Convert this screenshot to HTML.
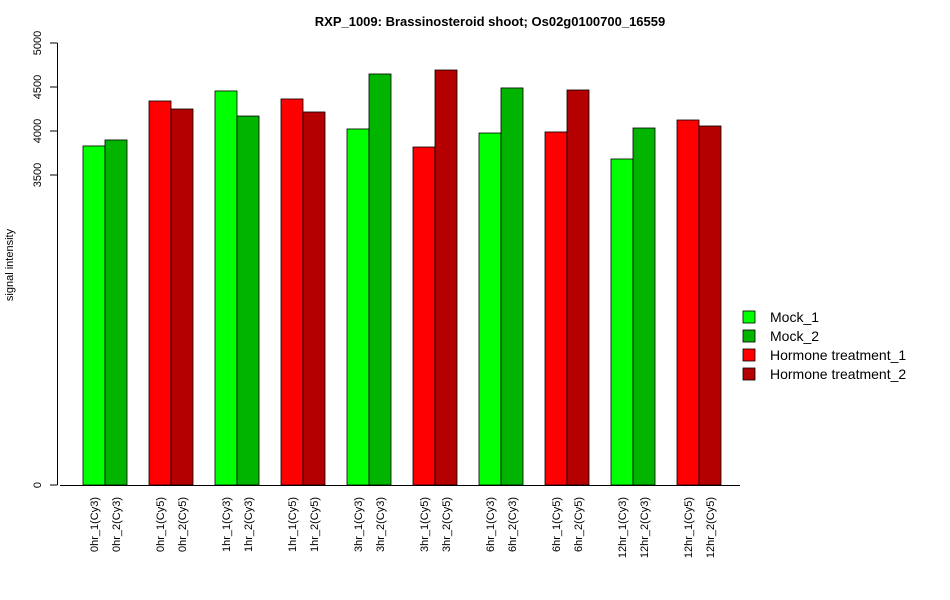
<!DOCTYPE html>
<html><head><meta charset="utf-8"><style>body{margin:0;background:#fff}svg{display:block;font-family:"Liberation Sans",Arial,sans-serif}</style></head>
<body>
<svg id="chart" width="950" height="600" xmlns="http://www.w3.org/2000/svg">
<text x="490" y="26" text-anchor="middle" font-size="13" font-weight="bold">RXP_1009: Brassinosteroid shoot; Os02g0100700_16559</text>
<text transform="translate(13,265) rotate(-90)" text-anchor="middle" font-size="11">signal intensity</text>
<g id="plot"></g>
<g>
<rect x="743" y="311" width="12" height="12" fill="#00ff00" stroke="#000" stroke-width="0.8"/>
<text x="770" y="322" font-size="14">Mock_1</text>
<rect x="743" y="330" width="12" height="12" fill="#00b400" stroke="#000" stroke-width="0.8"/>
<text x="770" y="341" font-size="14">Mock_2</text>
<rect x="743" y="349" width="12" height="12" fill="#ff0000" stroke="#000" stroke-width="0.8"/>
<text x="770" y="360" font-size="14">Hormone treatment_1</text>
<rect x="743" y="368" width="12" height="12" fill="#b40000" stroke="#000" stroke-width="0.8"/>
<text x="770" y="379" font-size="14">Hormone treatment_2</text>
</g>
</svg>
<script>
const categories = ["0hr_1(Cy3)","0hr_2(Cy3)","0hr_1(Cy5)","0hr_2(Cy5)","1hr_1(Cy3)","1hr_2(Cy3)","1hr_1(Cy5)","1hr_2(Cy5)","3hr_1(Cy3)","3hr_2(Cy3)","3hr_1(Cy5)","3hr_2(Cy5)","6hr_1(Cy3)","6hr_2(Cy3)","6hr_1(Cy5)","6hr_2(Cy5)","12hr_1(Cy3)","12hr_2(Cy3)","12hr_1(Cy5)","12hr_2(Cy5)"];
const values = [3830,3898,4341,4250,4455,4170,4364,4216,4023,4648,3818,4693,3977,4489,3989,4466,3682,4034,4125,4057];
const yTicks = [0,3500,4000,4500,5000];
const colors = ["#00ff00","#00b400","#ff0000","#b40000"];
const NS="http://www.w3.org/2000/svg";
const g=document.getElementById('plot');
function yScale(v){ return v>=3500 ? 175-(v-3500)*0.088 : 485-v/3500*310; }
function xScale(i){ return 83 + Math.floor(i/2)*66 + (i%2)*22; }
function mk(t,a){const e=document.createElementNS(NS,t);for(const k in a)e.setAttribute(k,a[k]);g.appendChild(e);return e;}
values.forEach((v,i)=>{
  const x=xScale(i), y=yScale(v);
  const r=mk('rect',{x:x,y:y,width:22,height:485-y,fill:colors[Math.floor(i/2)%2*2+(i%2)],stroke:'#000','stroke-width':0.8});
  
  
  const t=mk('text',{transform:`translate(${x+15},497) rotate(-90)`,'text-anchor':'end','font-size':11});
  t.textContent=categories[i];
  
  
});
const ax=mk('line',{x1:60,x2:740,y1:485.5,y2:485.5,stroke:'#000'});


const ya=mk('line',{x1:57.5,x2:57.5,y1:yScale(5000),y2:yScale(0),stroke:'#000'});


yTicks.forEach(v=>{
  const y=yScale(v);
  const l=mk('line',{x1:50,x2:57.5,y1:y,y2:y,stroke:'#000'});
  
  
  const t=mk('text',{transform:`translate(41,${y}) rotate(-90)`,'text-anchor':'middle','font-size':11});
  t.textContent=v;
  
  
});
</script>
</body></html>
